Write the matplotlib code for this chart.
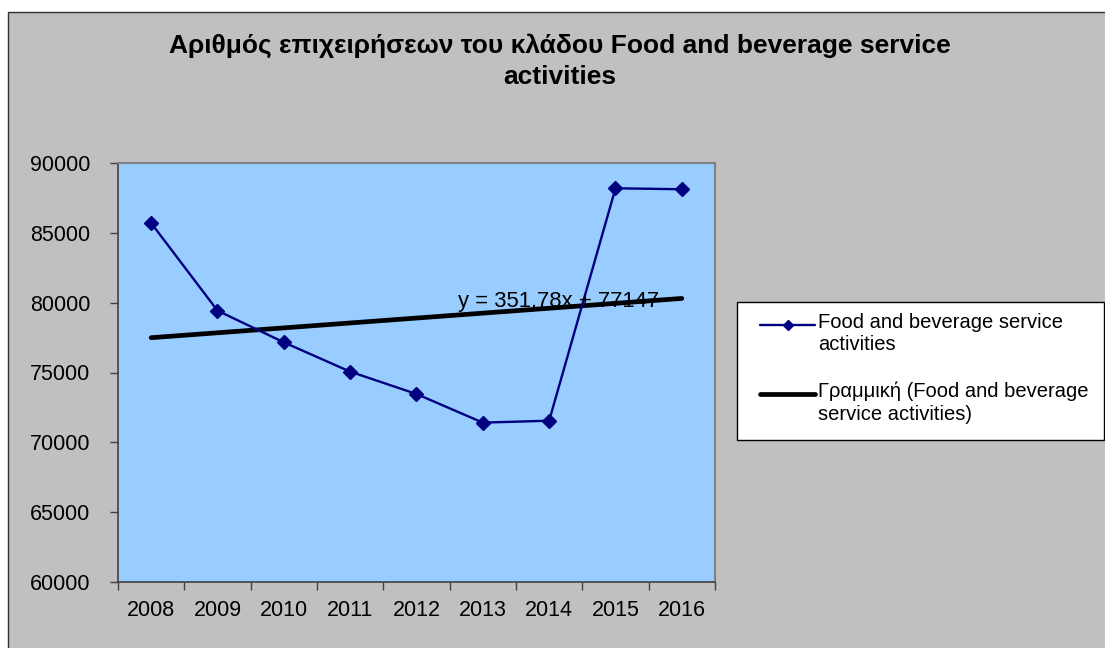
import matplotlib
matplotlib.use("Agg")
import matplotlib.pyplot as plt
from matplotlib.lines import Line2D
from matplotlib.patches import Rectangle
import numpy as np

plt.rcParams["font.family"] = ["Liberation Sans", "DejaVu Sans"]

# data
years = ["2008", "2009", "2010", "2011", "2012", "2013", "2014", "2015", "2016"]
firms = [85700, 79430, 77160, 75060, 73460, 71410, 71550, 88190, 88120]
y_ticks = [60000, 65000, 70000, 75000, 80000, 85000, 90000]

title = "Αριθμός επιχειρήσεων του κλάδου Food and beverage service\nactivities"
series_label = "Food and beverage service\nactivities"
trend_label = "Γραμμική (Food and beverage\nservice activities)"
equation = "y = 351,78x + 77147"

W, H = 1105, 648
fig = plt.figure(figsize=(W / 100, H / 100), dpi=100)
fig.patch.set_facecolor("white")

# chart area: grey with a thin dark frame (right/bottom edges fall outside the image)
fig.add_artist(Rectangle((8 / W, -0.05), 1.1, 1 - 12 / H + 0.05, transform=fig.transFigure,
                         facecolor="#C0C0C0", edgecolor="#303030", lw=1.0, zorder=-5))

ax = fig.add_axes([118 / W, 1 - 582 / H, (715 - 118) / W, (582 - 163) / H])
ax.set_facecolor("#99CCFF")

x = np.arange(len(years))
line, = ax.plot(x, firms, color="#000080", lw=1.7, marker="D", ms=6.8,
                mfc="#000080", mec="#000080", zorder=3)

# linear trend (Excel style: x = 1..n)
coef = np.polyfit(x + 1, firms, 1)
trend, = ax.plot(x, np.polyval(coef, x + 1), color="black", lw=3.4,
                 solid_capstyle="round", zorder=2)
ax.text(4.62, 80100, equation, fontsize=15.8, va="center", ha="left", zorder=4)

ax.set_xlim(-0.5, len(years) - 0.5)
ax.set_ylim(60000, 90000)
ax.set_yticks(y_ticks)
ax.set_yticklabels([str(v) for v in y_ticks], fontsize=15.5)
ax.set_xticks(x)
ax.set_xticklabels(years, fontsize=15.5)
ax.set_xticks(np.arange(len(years) + 1) - 0.5, minor=True)
ax.tick_params(axis="x", which="major", length=0, pad=13)
ax.tick_params(axis="x", which="minor", length=6, width=1, color="#404040", direction="out")
ax.tick_params(axis="y", length=6, width=1, color="#404040", direction="out", pad=14)

for side in ("top", "right"):
    ax.spines[side].set_color("#808080")
    ax.spines[side].set_linewidth(1.5)
for side in ("left", "bottom"):
    ax.spines[side].set_color("#404040")
    ax.spines[side].set_linewidth(1.2)

fig.text(560 / W, 1 - 33 / H, title, ha="center", va="top", fontsize=19,
         fontweight="bold", linespacing=1.38)

# legend box drawn like Excel's (handles aligned with first text line)
fig.add_artist(Rectangle((737 / W, 1 - 440 / H), (1104 - 737) / W, 138 / H,
                         transform=fig.transFigure, facecolor="white",
                         edgecolor="black", lw=1.0, zorder=5))
for handle, label, yc in ((line, series_label, 325), (trend, trend_label, 394)):
    fig.add_artist(Line2D([760 / W, 815 / W], [1 - yc / H, 1 - yc / H], transform=fig.transFigure,
                          color=handle.get_color(), lw=handle.get_linewidth(), zorder=6,
                          solid_capstyle="round"))
    if handle.get_marker() not in (None, "None", ""):
        fig.add_artist(Line2D([787.5 / W], [1 - yc / H], transform=fig.transFigure,
                              marker="D", ms=5, color=handle.get_color(), zorder=7))
    fig.text(818 / W, 1 - (yc - 12) / H, label, ha="left", va="top", fontsize=14.5,
             linespacing=1.22, zorder=7)

fig.savefig("out.png", dpi=100)
